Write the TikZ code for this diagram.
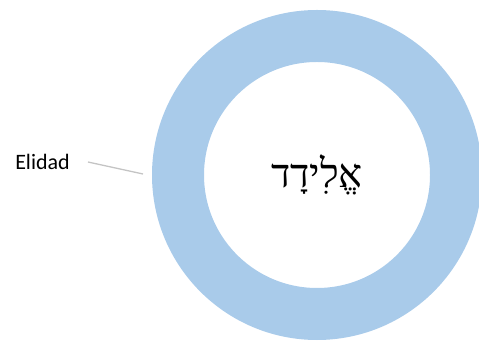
\documentclass[tikz,border=0pt]{standalone}
\usepackage{fontspec}
\setmainfont{Carlito}
\newfontfamily\hebfont[Script=Hebrew]{Liberation Serif}
\TeXXeTstate=1
\definecolor{ringblue}{HTML}{A9CBEA}
\definecolor{leadgray}{HTML}{C4C4C4}
\tikzset{
  ring/.style={circle, draw=ringblue, line width=52pt, minimum size=278pt, inner sep=0pt, font=\hebfont\fontsize{40}{44}\selectfont},
  lbl/.style={font=\fontsize{22}{26}\selectfont, inner sep=0pt, anchor=center},
  leader/.style={draw=leadgray, line width=1.3pt}
}
\begin{document}
\begin{tikzpicture}[x=1pt,y=1pt]
\useasboundingbox (0,0) rectangle (479,342);
\clip (0,0) rectangle (479,342);
\node[ring] (r) at (317,167) {\beginR אֱלִידָד\endR};
\node[lbl] (l) at (42.5,180) {Elidad};
\coordinate (e) at (143,168);
\draw[leader] ([xshift=18pt]l.east) -- (e);
\end{tikzpicture}
\end{document}
